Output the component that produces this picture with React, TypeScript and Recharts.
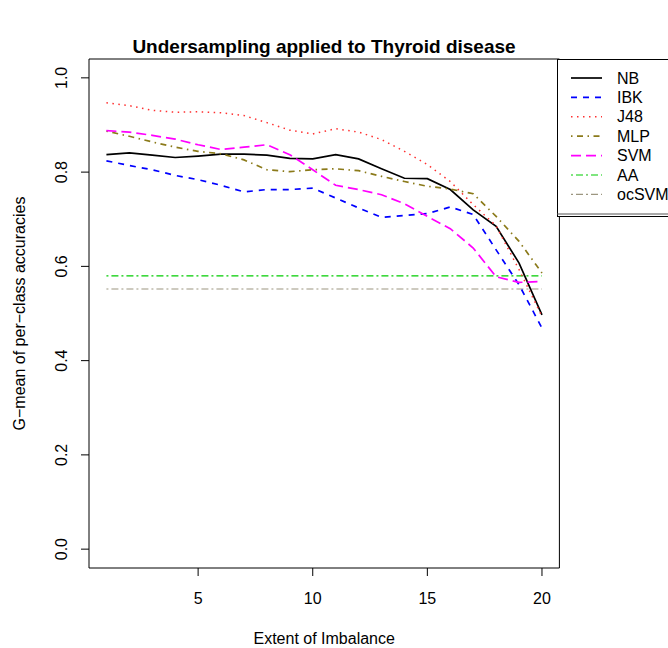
import React from "react";
import {
  LineChart,
  Line,
  XAxis,
  YAxis,
  ReferenceLine,
  ReferenceArea,
} from "recharts";

// Extent of imbalance (x) and G-mean per classifier
const IMBALANCE = [1, 2, 3, 4, 5, 6, 7, 8, 9, 10, 11, 12, 13, 14, 15, 16, 17, 18, 19, 20];
const NB = [0.837, 0.841, 0.836, 0.831, 0.834, 0.838, 0.838, 0.836, 0.829, 0.828, 0.837, 0.828, 0.807, 0.787, 0.786, 0.763, 0.72, 0.685, 0.607, 0.497];
const IBK = [0.824, 0.814, 0.805, 0.793, 0.784, 0.772, 0.758, 0.763, 0.763, 0.766, 0.745, 0.724, 0.704, 0.708, 0.712, 0.726, 0.71, 0.635, 0.561, 0.469];
const J48 = [0.947, 0.941, 0.931, 0.927, 0.928, 0.926, 0.92, 0.905, 0.889, 0.881, 0.892, 0.885, 0.869, 0.844, 0.816, 0.78, 0.731, 0.686, 0.593, 0.494];
const MLP = [0.887, 0.876, 0.864, 0.853, 0.844, 0.839, 0.826, 0.805, 0.801, 0.805, 0.807, 0.803, 0.791, 0.78, 0.77, 0.764, 0.754, 0.706, 0.653, 0.586];
const SVM = [0.888, 0.885, 0.878, 0.87, 0.858, 0.848, 0.853, 0.858, 0.837, 0.805, 0.772, 0.763, 0.752, 0.733, 0.706, 0.68, 0.639, 0.578, 0.566, 0.568];

// baselines (flat)
const AA_LEVEL = 0.58;
const OCSVM_LEVEL = 0.552;

const X_TICKS = [5, 10, 15, 20];
const Y_TICKS = [0, 0.2, 0.4, 0.6, 0.8, 1.0];

const FONT = "'Liberation Sans', Arial, Helvetica, sans-serif";

const SERIES = [
  { key: "NB", values: NB, color: "#000000", dash: undefined, width: 1.7 },
  { key: "IBK", values: IBK, color: "#0000ff", dash: "6 6", width: 1.7 },
  { key: "J48", values: J48, color: "#ff3030", dash: "1.5 4.5", width: 1.5 },
  { key: "MLP", values: MLP, color: "#8b7a1a", dash: "1.5 4.5 6 4.5", width: 1.7 },
  { key: "SVM", values: SVM, color: "#ff00ff", dash: "10 5", width: 1.7 },
];

const BASELINES = [
  { key: "AA", level: AA_LEVEL, color: "#00cc00", dash: "2 3 7 3", width: 1.2 },
  { key: "ocSVM", level: OCSVM_LEVEL, color: "#9c9680", dash: "2 3 7 3", width: 1.2 },
];

const rows = IMBALANCE.map((x, i) => {
  const r: Record<string, number> = { x };
  SERIES.forEach((s) => (r[s.key] = s.values[i]));
  return r;
});

function XTick({ x, y, payload }: any) {
  return (
    <text x={x} y={y} dy={20} textAnchor="middle" dominantBaseline="central"
      fontFamily={FONT} fontSize={16} fill="#000">
      {payload.value}
    </text>
  );
}

function YTick({ x, y, payload }: any) {
  const cx = x - 17;
  return (
    <text x={cx} y={y} textAnchor="middle" dominantBaseline="central"
      transform={`rotate(-90, ${cx}, ${y})`}
      fontFamily={FONT} fontSize={16} fill="#000">
      {Number(payload.value).toFixed(1)}
    </text>
  );
}

function LegendBox() {
  const entries = [...SERIES, ...BASELINES];
  return (
    <svg width={111} height={170} style={{ position: "absolute", left: 557, top: 55 }}>
      <rect x={0.5} y={4.5} width={130} height={157} fill="#fff" stroke="#000" />
      <line x1={0} x2={111} y1={159} y2={159} stroke="#555" />
      {entries.map((e, i) => {
        const y = 23 + i * 19.4;
        return (
          <g key={e.key}>
            <line x1={14} x2={45} y1={y} y2={y} stroke={e.color}
              strokeWidth={e.width} strokeDasharray={e.dash} />
            <text x={60} y={y} dominantBaseline="central" fontFamily={FONT}
              fontSize={16} fill="#000">{e.key}</text>
          </g>
        );
      })}
    </svg>
  );
}

export default function App() {
  return (
    <div style={{ position: "absolute", left: 0, top: 0, width: 668, height: 648, background: "#fff", fontFamily: FONT }}>
      <div style={{ position: "absolute", left: 89, width: 470, top: 34, textAlign: "center", fontWeight: "bold", fontSize: 19, lineHeight: "26px" }}>
        Undersampling applied to Thyroid disease
      </div>
      <LineChart width={668} height={648} data={rows}
        margin={{ top: 59, right: 108.6, bottom: 0, left: 39 }}>
        <XAxis
          dataKey="x"
          type="number"
          domain={[0.24, 20.76]}
          ticks={X_TICKS}
          allowDataOverflow
          height={80}
          tickSize={8}
          tickMargin={2}
          axisLine={false}
          tickLine={{ stroke: "#000" }}
          tick={<XTick />}
          label={{ value: "Extent of Imbalance", position: "insideBottom", offset: 4, fontFamily: FONT, fontSize: 16, fill: "#000" }}
        />
        <YAxis
          type="number"
          domain={[-0.04, 1.04]}
          ticks={Y_TICKS}
          allowDataOverflow
          width={50}
          tickSize={8}
          tickMargin={2}
          axisLine={false}
          tickLine={{ stroke: "#000" }}
          tick={<YTick />}
          label={{ value: "G\u2212mean of per\u2212class accuracies", angle: -90, position: "insideLeft", offset: -20, style: { textAnchor: "middle" }, fontFamily: FONT, fontSize: 16, fill: "#000" }}
        />
        <ReferenceArea x1={0.24} x2={20.76} y1={-0.04} y2={1.04} fill="none" stroke="#000" strokeWidth={1} ifOverflow="visible" />
        {BASELINES.map((b) => (
          <ReferenceLine key={b.key}
            segment={[{ x: IMBALANCE[0], y: b.level }, { x: IMBALANCE[IMBALANCE.length - 1], y: b.level }]}
            stroke={b.color} strokeWidth={b.width} strokeDasharray={b.dash} />
        ))}
        {SERIES.map((s) => (
          <Line key={s.key} dataKey={s.key} type="linear" stroke={s.color}
            strokeWidth={s.width} strokeDasharray={s.dash} dot={false}
            activeDot={false} isAnimationActive={false} />
        ))}
      </LineChart>
      <LegendBox />
    </div>
  );
}
